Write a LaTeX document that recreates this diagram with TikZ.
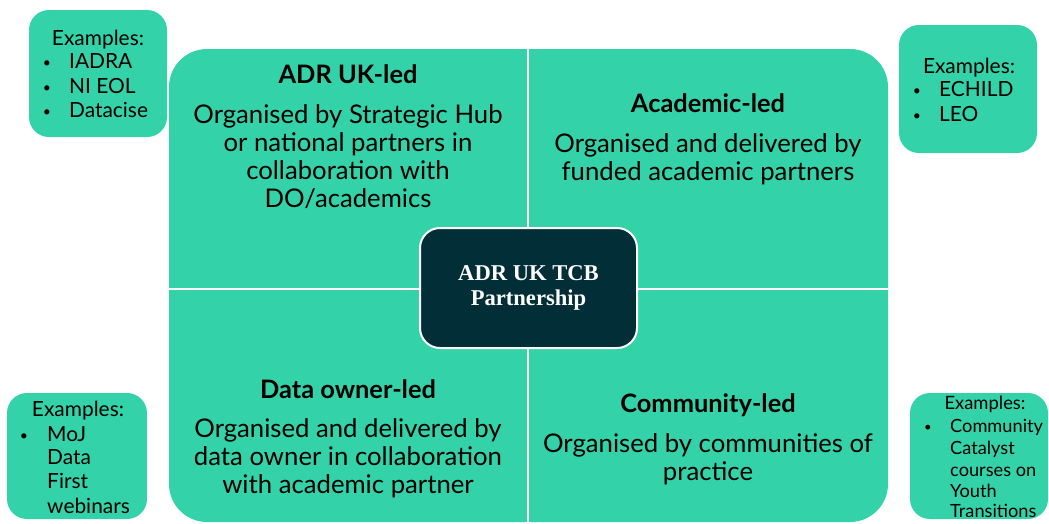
\documentclass[tikz,border=0pt]{standalone}
\usepackage{fontspec}
\setmainfont{Lato}
\newfontfamily\centerfont{Liberation Serif}
\definecolor{tgreen}{RGB}{52,210,168}
\definecolor{tdark}{RGB}{2,47,55}
\begin{document}
\begin{tikzpicture}[x=1pt,y=-1pt,
  exbox/.style={fill=tgreen, rounded corners=20pt, minimum width=#1, minimum height=126pt, inner sep=0pt},
  head/.style={anchor=base, inner sep=0pt, font=\fontsize{25.4}{28}\selectfont\bfseries},
  body/.style={anchor=base, inner sep=0pt, font=\fontsize{25.7}{28}\selectfont},
  exhead/.style={anchor=base, inner sep=0pt, font=\fontsize{20.9}{24}\selectfont},
  exitem/.style={anchor=base west, inner sep=0pt, font=\fontsize{20.9}{24}\selectfont},
  bullet/.style={anchor=base, inner sep=0pt, font=\fontsize{14}{24}\selectfont},
  exheadsm/.style={anchor=base, inner sep=0pt, font=\fontsize{18.4}{21}\selectfont},
  exitemsm/.style={anchor=base west, inner sep=0pt, font=\fontsize{18.2}{21}\selectfont},
  bulletsm/.style={anchor=base, inner sep=0pt, font=\fontsize{13}{21}\selectfont},
  divider/.style={white, line width=2.5pt},
  centerbox/.style={fill=tdark, draw=white, line width=2pt, rounded corners=20pt,
    minimum width=217pt, minimum height=120pt, text=white, align=center,
    font=\centerfont\bfseries\fontsize{22.6}{25}\selectfont}
]
\useasboundingbox (0,0) rectangle (1049,523);
% main quadrant block
\fill[tgreen, rounded corners=38pt] (169,49) rectangle (888,522);
\coordinate (vtop) at (528,49);
\coordinate (vbot) at (528,522);
\coordinate (hleft) at (169,289);
\coordinate (hright) at (888,289);
\draw[divider] (vtop) -- (vbot);
\draw[divider] (hleft) -- (hright);
\node[centerbox] (center) at (528.5,288) {ADR UK TCB\\Partnership};

% top-left quadrant
\node[head] (tlh) at (348,83) {ADR UK-led};
\node[body] (tl1) at (348,123) {Organised by Strategic Hub};
\node[body] (tl2) at (348,151) {or national partners in};
\node[body] (tl3) at (348,179) {collaboration with};
\node[body] (tl4) at (348,207) {DO/academics};
% top-right quadrant
\node[head] (trh) at (708,112) {Academic-led};
\node[body] (tr1) at (708,152) {Organised and delivered by};
\node[body] (tr2) at (708,180) {funded academic partners};
% bottom-left quadrant
\node[head] (blh) at (348,398) {Data owner-led};
\node[body] (bl1) at (348,437) {Organised and delivered by};
\node[body] (bl2) at (348,465) {data owner in collaboration};
\node[body] (bl3) at (348,493) {with academic partner};
% bottom-right quadrant
\node[head] (brh) at (708,412) {Community-led};
\node[body] (br1) at (708,452) {Organised by communities of};
\node[body] (br2) at (708,480) {practice};

% example box 1
\node[exbox=138pt, minimum height=127pt] (ex1) at (98,73.5) {};
\node[exhead] (ex1h) at (98,45) {Examples:};
\node[bullet] (ex1b1) at (47,67) {•};
\node[exitem] (ex1i1) at (69,68) {IADRA};
\node[bullet] (ex1b2) at (47,92) {•};
\node[exitem] (ex1i2) at (69,93) {NI EOL};
\node[bullet] (ex1b3) at (47,116) {•};
\node[exitem] (ex1i3) at (69,117) {Datacise};
% example box 2
\node[exbox=138pt, minimum height=128pt] (ex2) at (968,89) {};
\node[exhead] (ex2h) at (969,73) {Examples:};
\node[bullet] (ex2b1) at (917,95) {•};
\node[exitem] (ex2i1) at (939,96) {ECHILD};
\node[bullet] (ex2b2) at (917,120) {•};
\node[exitem] (ex2i2) at (939,121) {LEO};
% example box 3
\node[exbox=140pt] (ex3) at (77,456) {};
\node[exhead] (ex3h) at (78,416) {Examples:};
\node[bullet] (ex3b1) at (24,440) {•};
\node[exitem] (ex3i1) at (47,441) {MoJ};
\node[exitem] (ex3i2) at (47,464) {Data};
\node[exitem] (ex3i3) at (47,488) {First};
\node[exitem] (ex3i4) at (47,513) {webinars};
% example box 4
\node[exbox=138pt] (ex4) at (979,456) {};
\node[exheadsm] (ex4h) at (985,409) {Examples:};
\node[bulletsm] (ex4b1) at (928,431) {•};
\node[exitemsm] (ex4i1) at (950,432) {Community};
\node[exitemsm] (ex4i2) at (950,454) {Catalyst};
\node[exitemsm] (ex4i3) at (950,476) {courses on};
\node[exitemsm] (ex4i4) at (950,497) {Youth};
\node[exitemsm] (ex4i5) at (950,517) {Transitions};
\end{tikzpicture}
\end{document}
